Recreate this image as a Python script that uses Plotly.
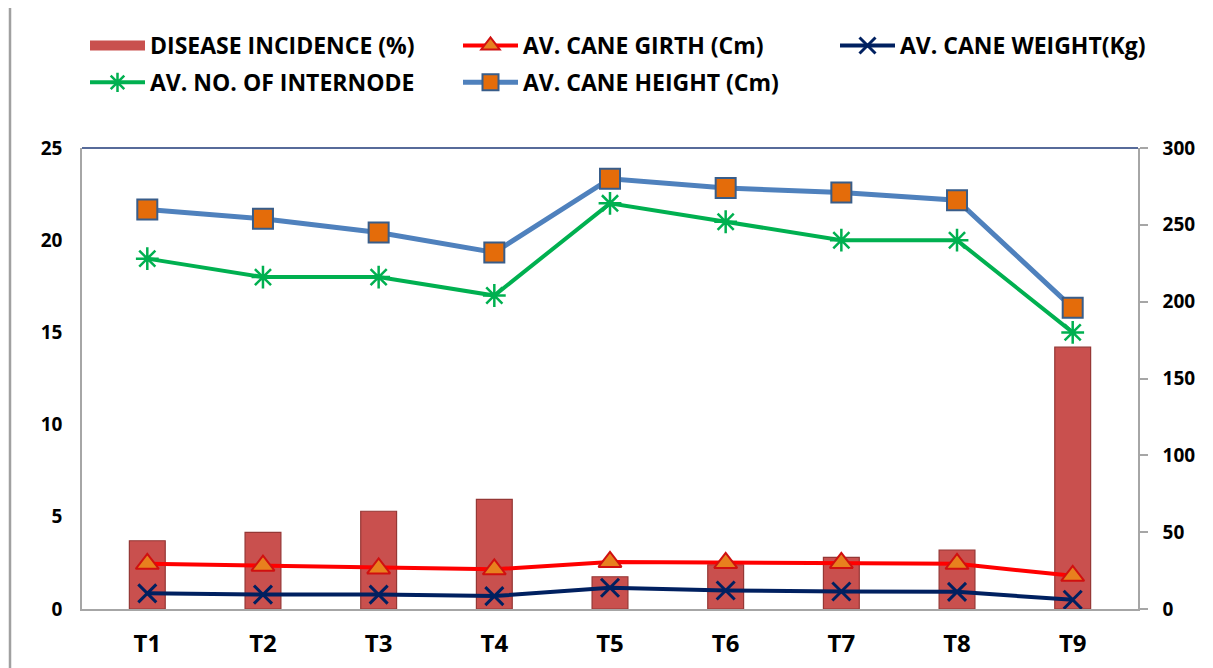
import plotly.graph_objects as go

categories = ["T1", "T2", "T3", "T4", "T5", "T6", "T7", "T8", "T9"]
disease_incidence = [3.7, 4.15, 5.3, 5.95, 1.75, 2.4, 2.8, 3.2, 14.2]
cane_girth = [2.45, 2.35, 2.2, 2.15, 2.55, 2.5, 2.5, 2.45, 1.8]
cane_weight = [0.85, 0.78, 0.78, 0.7, 1.15, 1.0, 0.95, 0.93, 0.5]
internodes = [19, 18, 18, 17, 22, 21, 20, 20, 15]
cane_height = [260, 254, 245, 232, 280, 274, 271, 266, 196]

left_ticks = [0, 5, 10, 15, 20, 25]
right_ticks = [0, 50, 100, 150, 200, 250, 300]

FONT = "Open Sans"
BAR_COLOR = "#C9504E"

fig = go.Figure()

fig.add_trace(go.Bar(
    x=categories, y=disease_incidence, name="DISEASE INCIDENCE (%)",
    width=0.31, showlegend=False, legendgroup="a",
    marker=dict(color=BAR_COLOR, line=dict(color="#953735", width=1.2)),
))
# legend-only entry that shows the bar swatch as a wide rectangle
fig.add_trace(go.Scatter(
    x=[None], y=[None], name="DISEASE INCIDENCE (%)", mode="lines",
    line=dict(color=BAR_COLOR, width=14), legendgroup="a", legend="legend",
))
fig.add_trace(go.Scatter(
    x=categories, y=cane_girth, name="AV. CANE GIRTH (Cm)", mode="lines+markers",
    line=dict(color="#FF0000", width=4), legendgroup="b",
    marker=dict(symbol="triangle-up", size=20, color="#E8801E",
                line=dict(color="#D01010", width=2)),
    legend="legend2",
))
fig.add_trace(go.Scatter(
    x=categories, y=cane_weight, name="AV. CANE WEIGHT(Kg)", mode="lines+markers",
    line=dict(color="#002060", width=4), legendgroup="c",
    marker=dict(symbol="x-thin-open", size=18, color="#002060",
                line=dict(color="#002060", width=3)),
    legend="legend3",
))
fig.add_trace(go.Scatter(
    x=categories, y=internodes, name="AV. NO. OF INTERNODE", mode="lines+markers",
    line=dict(color="#00B050", width=4), legendgroup="d",
    marker=dict(symbol="asterisk-open", size=19, color="#00B050",
                line=dict(color="#00B050", width=2.5)),
    legend="legend",
))
fig.add_trace(go.Scatter(
    x=categories, y=cane_height, name="AV. CANE HEIGHT (Cm)", mode="lines+markers",
    yaxis="y2", legendgroup="e",
    line=dict(color="#4F81BD", width=5),
    marker=dict(symbol="square", size=20, color="#E46C0A",
                line=dict(color="#385D8A", width=2)),
    legend="legend2",
))

# the page body adds an 8px offset; figure is sized to fit the window
W, H = 1205, 660
ml, mr, mt, mb = 74, 75, 140, 59

legend_common = dict(
    orientation="v", xanchor="left", yanchor="top",
    xref="container", yref="container",
    font=dict(family=FONT, size=23, color="#000000", weight="bold"),
    itemwidth=55, bgcolor="rgba(0,0,0,0)", traceorder="grouped",
    tracegroupgap=4, itemsizing="trace",
)

def leg(px_x, px_y):
    return dict(x=px_x / W, y=1 - px_y / H, **legend_common)

pw = W - ml - mr
ph = H - mt - mb

fig.update_layout(
    width=W, height=H,
    margin=dict(l=ml, r=mr, t=mt, b=mb, autoexpand=False),
    paper_bgcolor="white", plot_bgcolor="white",
    showlegend=True,
    xaxis=dict(
        categoryorder="array", categoryarray=categories, automargin=False,
        showline=True, linecolor="#A6A6A6", linewidth=1.5,
        showgrid=False, ticks="", ticklabelstandoff=12,
        tickfont=dict(family=FONT, size=24, color="#000000", weight="bold"),
    ),
    yaxis=dict(
        range=[0, 25], tickvals=left_ticks, showgrid=False, zeroline=False,
        automargin=False,
        showline=True, linecolor="#A6A6A6", linewidth=1.5, ticks="",
        ticklabelstandoff=14,
        tickfont=dict(family=FONT, size=19, color="#000000", weight="bold"),
    ),
    yaxis2=dict(
        range=[0, 300], tickvals=right_ticks, overlaying="y", side="right",
        showgrid=False, zeroline=False, automargin=False,
        showline=True, linecolor="#A6A6A6", linewidth=1.5,
        ticks="outside", ticklen=8, tickcolor="#A6A6A6", tickwidth=1.5,
        ticklabelstandoff=11,
        tickfont=dict(family=FONT, size=19, color="#000000", weight="bold"),
    ),
    legend=leg(77, 16),
    legend2=leg(450, 16),
    legend3=leg(827, 16),
    shapes=[
        dict(type="line", xref="paper", yref="paper", x0=0, x1=1, y0=1, y1=1,
             line=dict(color="#1F3A78", width=1.5)),
        dict(type="line", xref="paper", yref="paper",
             x0=(2 - ml) / pw, x1=(2 - ml) / pw,
             y0=-mb / ph, y1=1 + mt / ph,
             line=dict(color="#A0A0A0", width=2.5)),
    ],
)

fig.write_html("out.html")
